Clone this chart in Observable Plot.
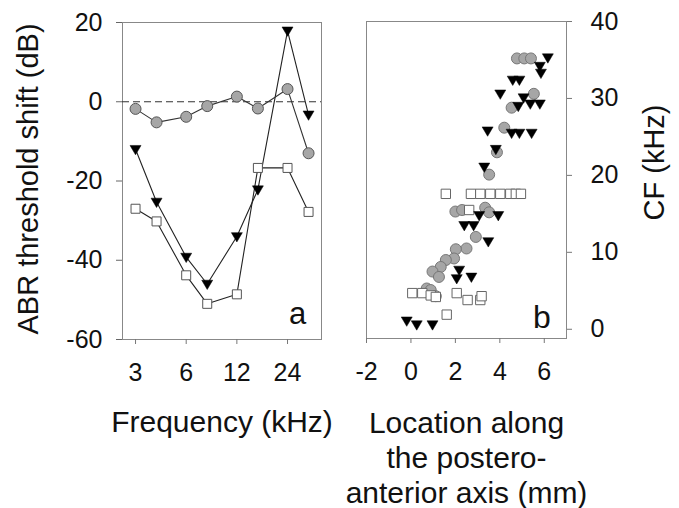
<!DOCTYPE html>
<html><head><meta charset="utf-8">
<script src="https://cdn.jsdelivr.net/npm/d3@7"></script>
<script src="https://cdn.jsdelivr.net/npm/@observablehq/plot@0.6"></script>
<style>
html,body{margin:0;padding:0;background:#fff;}
#wrap{position:relative;width:679px;height:508px;overflow:hidden;background:#fff;}
#wrap > svg{position:absolute;top:0;}
</style></head><body><div id="wrap"></div>
<script>
// Panel a: ABR threshold shift vs frequency
const freqs = [3, 4, 6, 8, 12, 16, 24, 32];
const freqTicks = [3, 6, 12, 24];
const shiftCircle = [-1.8, -5.2, -3.8, -1.1, 1.3, -1.7, 3.2, -13];
const shiftTriangle = [-12, -25.3, -39.2, -46, -34, -22.2, 17.9, -3.3];
const shiftSquare = [-27, -30.2, -43.8, -51, -48.6, -16.7, -16.7, -27.8];
const shiftTicks = [-60, -40, -20, 0, 20];

// Panel b: CF vs location
const locTicks = [-2, 0, 2, 4, 6];
const cfTicks = [0, 10, 20, 30, 40];
const circLoc = [4.77, 5.10, 5.40, 5.53, 4.53, 4.2, 3.87, 3.52, 2.0, 2.3, 3.34, 3.52, 2.92, 2.50, 2.02, 1.94, 1.57, 1.34, 0.97, 1.26, 0.71, 0.89, 1.12];
const circCF  = [35.2, 35.2, 35.2, 30.6, 28.8, 26.2, 23.0, 20.1, 15.3, 15.5, 15.8, 15.2, 12.0, 10.5, 10.4, 9.2, 9.0, 8.1, 7.5, 6.8, 5.3, 5.1, 4.3];
const triLoc = [6.16, 5.8, 5.85, 4.58, 4.88, 4.02, 5.07, 5.37, 5.80, 4.83, 3.45, 4.53, 4.88, 5.43, 3.82, 3.30, 3.07, 3.93, 2.4, 2.82, 3.48, 2.17, 2.06, 2.72, -0.19, 0.26, 0.97];
const triCF  = [35.3, 34.2, 33.3, 32.4, 32.4, 30.6, 30.1, 29.3, 29.3, 29.0, 25.8, 25.5, 25.5, 25.5, 23.4, 21.1, 14.8, 14.8, 13.5, 13.5, 11.4, 7.7, 6.6, 6.8, 1.1, 0.6, 0.6];
const sqLoc = [1.57, 2.7, 3.12, 3.57, 4.02, 4.47, 4.72, 4.95, 2.62, 0.06, 0.51, 0.89, 1.12, 2.06, 2.55, 3.12, 3.18, 1.61];
const sqCF  = [17.6, 17.6, 17.6, 17.6, 17.6, 17.6, 17.6, 17.6, 15.5, 4.7, 4.7, 4.4, 4.2, 4.7, 3.8, 3.8, 4.3, 1.9];

const font = "'Liberation Sans', Arial, Helvetica, sans-serif";
const downTri = {draw(ctx, size) { const r = Math.sqrt(size / Math.PI); ctx.moveTo(-r, -0.7 * r); ctx.lineTo(r, -0.7 * r); ctx.lineTo(0, 1.0 * r); ctx.closePath(); }};
const square = {draw(ctx, size) { const r = Math.sqrt(size / Math.PI) * 0.9; ctx.rect(-r, -r, 2 * r, 2 * r); }};
const fmt = d => String(d);

const series = (xs, ys) => xs.map((x, i) => ({x, y: ys[i]}));
const A_sq = series(freqs, shiftSquare);
const A_tri = series(freqs, shiftTriangle);
const A_circ = series(freqs, shiftCircle);
const B_circ = series(circLoc, circCF);
const B_tri = series(triLoc, triCF);
const B_sq = series(sqLoc, sqCF);

const style = {fontFamily: font, fontSize: "25px", color: "#111", background: "transparent", overflow: "visible"};

const plotA = Plot.plot({
  width: 345, height: 508,
  marginLeft: 122, marginRight: 24, marginTop: 22, marginBottom: 169,
  style,
  x: {type: "log", base: 2, domain: [2.51, 38.2]},
  y: {domain: [-60, 20]},
  marks: [
    Plot.frame({stroke: "#888"}),
    Plot.axisX(freqTicks, {tickSize: 5, tickPadding: 19, label: null, tickFormat: fmt, stroke: "#777", fill: "#111"}),
    Plot.axisY(shiftTicks, {tickSize: 6, tickPadding: 14, label: null, tickFormat: fmt, stroke: "#666", fill: "#111"}),
    Plot.ruleY([0], {stroke: "#333", strokeWidth: 1.2, strokeDasharray: "7,4"}),
    Plot.line(A_sq, {x: "x", y: "y", stroke: "#222", strokeWidth: 1.1}),
    Plot.line(A_tri, {x: "x", y: "y", stroke: "#222", strokeWidth: 1.1}),
    Plot.line(A_circ, {x: "x", y: "y", stroke: "#333", strokeWidth: 1.1}),
    Plot.dot(A_sq, {x: "x", y: "y", symbol: square, r: 5, fill: "white", stroke: "#555", strokeWidth: 1}),
    Plot.dot(A_tri, {x: "x", y: "y", symbol: downTri, r: 5.5, fill: "#000", stroke: "#000", strokeWidth: 0.5}),
    Plot.dot(A_circ, {x: "x", y: "y", r: 5.5, fill: "#a6a6a6", stroke: "#555", strokeWidth: 1}),
    Plot.text(["Frequency (kHz)"], {text: d => d, frameAnchor: "bottom", dy: 83, lineAnchor: "middle", textAnchor: "middle", fontSize: 30, fill: "#111"}),
    Plot.text(["ABR threshold shift (dB)"], {text: d => d, frameAnchor: "left", rotate: -90, dx: -94, dy: -2, lineAnchor: "middle", textAnchor: "middle", fontSize: 29, fill: "#111"}),
    Plot.text(["a"], {text: d => d, frameAnchor: "bottom-right", dx: -24, dy: -16, lineAnchor: "bottom", textAnchor: "middle", fontSize: 31, fill: "#111"})
  ]
});
plotA.style.left = "0px";

const plotB = Plot.plot({
  width: 334, height: 508,
  marginLeft: 21, marginRight: 113, marginTop: 21, marginBottom: 170,
  style,
  x: {domain: [-2, 7]},
  y: {domain: [-1.2, 40]},
  marks: [
    Plot.frame({stroke: "#888"}),
    Plot.axisX(locTicks, {tickSize: 5, tickPadding: 19, label: null, tickFormat: fmt, stroke: "#777", fill: "#111"}),
    Plot.axisY(cfTicks, {anchor: "right", tickSize: 5, tickPadding: 19, label: null, tickFormat: fmt, stroke: "#777", fill: "#111"}),
    Plot.dot(B_circ, {x: "x", y: "y", r: 5.5, fill: "#a6a6a6", stroke: "#777", strokeWidth: 1}),
    Plot.dot(B_sq, {x: "x", y: "y", symbol: square, r: 5.2, fill: "white", stroke: "#666", strokeWidth: 1}),
    Plot.dot(B_tri, {x: "x", y: "y", symbol: downTri, r: 5.5, fill: "#000", stroke: "#000", strokeWidth: 0.5}),
    Plot.text(["Location along\nthe postero-\nanterior axis (mm)"], {text: d => d, frameAnchor: "bottom", dy: 118, lineAnchor: "middle", textAnchor: "middle", lineHeight: 1.17, fontSize: 30, fill: "#111"}),
    Plot.text(["CF (kHz)"], {text: d => d, frameAnchor: "right", rotate: -90, dx: 88, dy: -17.5, lineAnchor: "middle", textAnchor: "middle", fontSize: 29, fill: "#111"}),
    Plot.text(["b"], {text: d => d, frameAnchor: "bottom-right", dx: -24.5, dy: -11, lineAnchor: "bottom", textAnchor: "middle", fontSize: 32, fill: "#111"})
  ]
});
plotB.style.left = "345px";

const wrap = document.getElementById("wrap");
wrap.appendChild(plotA);
wrap.appendChild(plotB);
</script>
</body></html>
